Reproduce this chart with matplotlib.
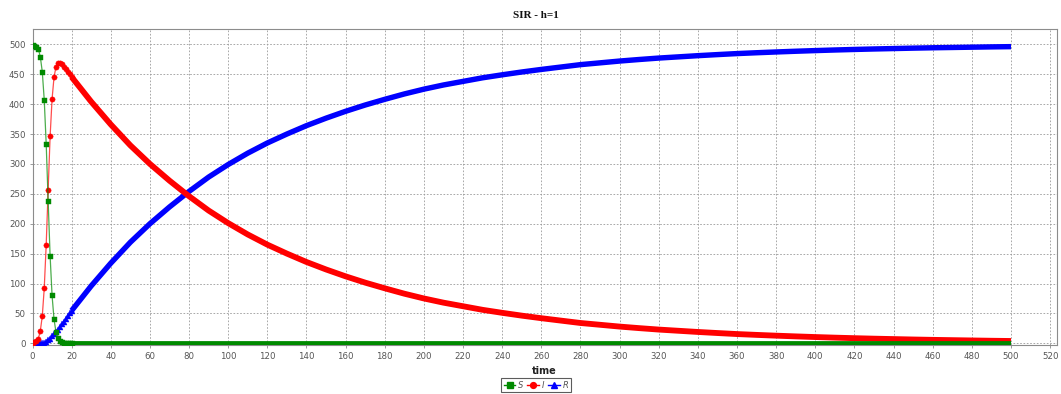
import matplotlib
matplotlib.use("Agg")
import matplotlib.pyplot as plt
from matplotlib.lines import Line2D

# SIR model output, step h = 1
# early phase: one value per time step
t_early = list(range(0, 21))
s_early = [499, 498, 496, 492, 479, 454, 407, 333, 238, 146, 80, 40, 19, 9, 4, 2,
           1, 0.5, 0.2, 0.1, 0.05]
i_early = [1, 2, 4, 8, 21, 45.5, 92, 165, 257, 346, 408.5, 445, 462.5, 468.5, 469,
           466.3, 462.6, 458.5, 454.2, 449.7, 445.3]
r_early = [0, 0, 0, 0, 0, 0.5, 1, 2, 5, 8, 11.5, 15, 18.5, 22.5, 27, 31.7, 36.4, 41,
           45.6, 50.2, 54.65]

# long tail of the epidemic, every 10 time units
t_late = list(range(20, 510, 10))
s_late = [0.05, 0.01] + [0] * 47
i_late = [445.3, 404, 366, 331, 300, 272, 246, 222, 201, 182, 165, 150, 136, 123.5,
          112, 101.5, 92, 83, 75, 68, 62, 56, 51, 46.3, 42, 38, 34, 31, 28, 25.4,
          23, 21, 19, 17.2, 15.5, 14.1, 12.8, 11.6, 10.5, 9.5, 8.6, 7.8, 7.1, 6.4,
          5.8, 5.3, 4.8, 4.3, 3.9]
r_late = [54.65, 96, 134, 169, 200, 228, 254, 278, 299, 318, 335, 350, 364, 376.5,
          388, 398.5, 408, 417, 425, 432, 438, 444, 449, 453.7, 458, 462, 466, 469,
          472, 474.6, 477, 479, 481, 482.8, 484.5, 485.9, 487.2, 488.4, 489.5,
          490.5, 491.4, 492.2, 492.9, 493.6, 494.2, 494.7, 495.2, 495.7, 496.1]

x_ticks = list(range(0, 540, 20))
y_ticks = list(range(0, 550, 50))

GREEN = "#008a00"
RED = "#ff0000"
BLUE = "#0000ff"

fig = plt.figure(figsize=(10.61, 3.94), dpi=100)
ax = fig.add_axes([32.5 / 1061, 1 - 345 / 394, (1057 - 32.5) / 1061, (345 - 29) / 394])

# series drawn with S on top, R at the bottom
series = [
    ("S", t_early, s_early, t_late, s_late, GREEN, "s", 3.6, 3.2, 6),
    ("I", t_early, i_early, t_late, i_late, RED, "o", 3.8, 4.2, 5),
    ("R", t_early, r_early, t_late, r_late, BLUE, "^", 4.4, 3.9, 4),
]
handles = []
for name, te, ve, tl, vl, col, mk, ms, band, z in series:
    ax.plot(tl, vl, color=col, lw=band, solid_capstyle="butt",
            solid_joinstyle="round", zorder=z)
    ax.plot(te, ve, color=col, lw=0.9, alpha=0.7, zorder=z + 0.1)
    ax.plot(te, ve, linestyle="none", marker=mk, ms=ms, mfc=col, mec=col,
            mew=0.3, zorder=z + 0.2)
    handles.append(Line2D([], [], color=col, lw=1.0, marker=mk, ms=4.2,
                          mfc=col, mec=col, label=name))

ax.set_xlim(0, 523.5)
ax.set_ylim(-2.8, 525.6)
ax.set_xticks(x_ticks)
ax.set_yticks(y_ticks)
ax.grid(True, color="#9a9a9a", lw=0.6, linestyle=(0, (2, 2)))
ax.set_axisbelow(True)
for sp in ax.spines.values():
    sp.set_color("#8c8c8c")
    sp.set_linewidth(0.8)
ax.tick_params(axis="both", labelsize=6.2, colors="#8a8a8a", labelcolor="#555555",
               length=2, width=0.6, pad=3)

ax.set_xlabel("time", fontsize=7, fontweight="bold", color="#222222", labelpad=4)
fig.text(536 / 1061, 1 - 15 / 394, "SIR - h=1", ha="center", va="center",
         fontsize=8, fontweight="bold", family="Liberation Serif", color="#111111")

leg = fig.legend(handles=handles, loc="center", bbox_to_anchor=(536 / 1061, 1 - 385 / 394),
                 ncol=3, fontsize=6, frameon=True, fancybox=False, handlelength=1.4,
                 handletextpad=0.3, columnspacing=0.5, borderpad=0.3,
                 borderaxespad=0)
leg.get_frame().set_edgecolor("#333333")
leg.get_frame().set_linewidth(0.8)
for txt in leg.get_texts():
    txt.set_style("italic")
    txt.set_color("#555555")

fig.savefig("out.png", dpi=100)
